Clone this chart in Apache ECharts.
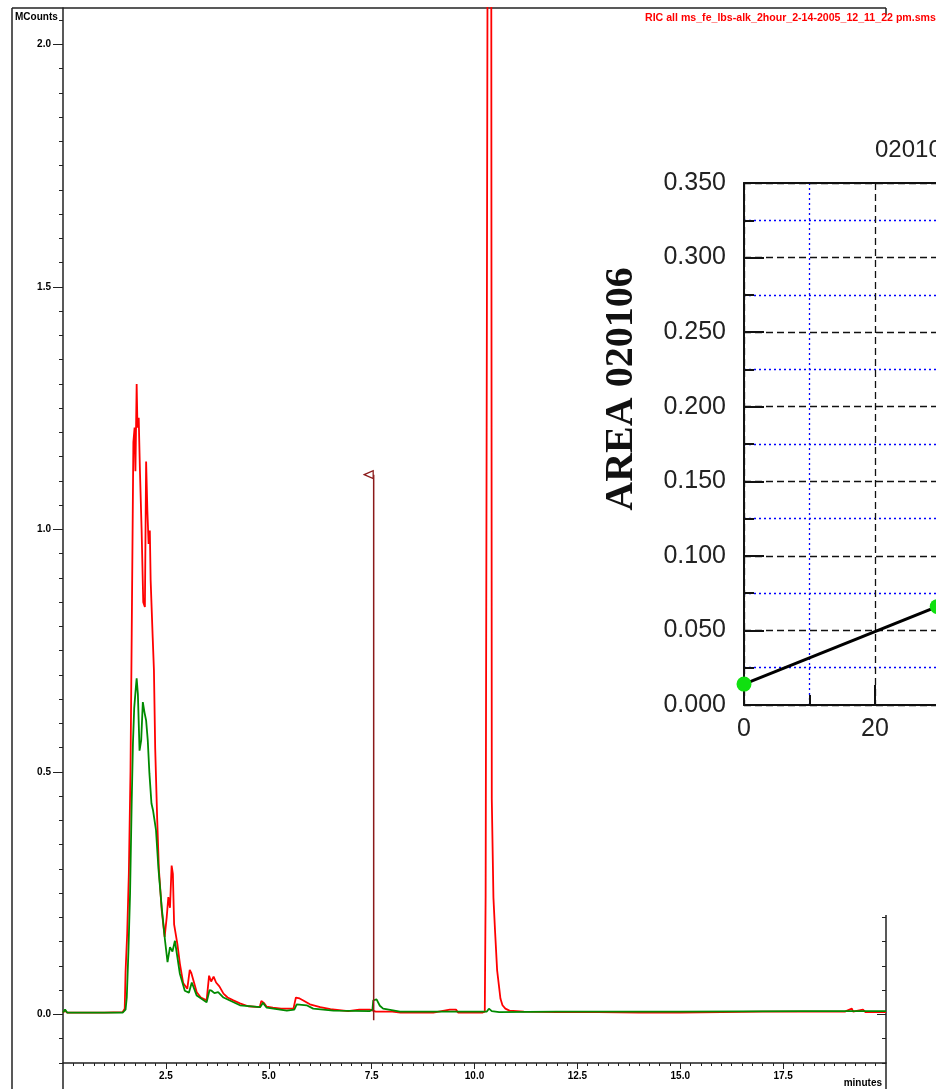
<!DOCTYPE html>
<html>
<head>
<meta charset="utf-8">
<script src="https://cdn.jsdelivr.net/npm/echarts@6/dist/echarts.min.js"></script>
<style>
  html, body { margin: 0; padding: 0; background: #fff; }
  #chart { width: 936px; height: 1089px; }
</style>
</head>
<body>
<div id="chart"></div>
<script>
// chromatogram traces, [minutes, MCounts]
const redTrace = [
  [0.0, 0.004], [0.05, 0.008], [0.1, 0.004], [0.5, 0.004], [1.0, 0.004], [1.45, 0.005],
  [1.50, 0.012], [1.52, 0.087], [1.56, 0.167], [1.60, 0.29], [1.64, 0.50], [1.67, 0.786],
  [1.71, 1.18], [1.74, 1.21], [1.76, 1.12], [1.79, 1.30], [1.81, 1.21], [1.84, 1.23],
  [1.87, 1.12], [1.91, 1.00], [1.95, 0.85], [1.99, 0.84], [2.02, 1.14], [2.05, 1.04],
  [2.08, 0.97], [2.11, 0.998], [2.13, 0.895], [2.18, 0.777], [2.21, 0.709], [2.24, 0.55],
  [2.29, 0.40], [2.33, 0.30], [2.40, 0.214], [2.47, 0.16], [2.52, 0.20], [2.56, 0.242],
  [2.60, 0.22], [2.64, 0.307], [2.67, 0.29], [2.70, 0.186], [2.78, 0.145], [2.84, 0.105],
  [2.92, 0.065], [3.02, 0.053], [3.08, 0.092], [3.12, 0.085], [3.17, 0.07], [3.25, 0.046],
  [3.35, 0.035], [3.49, 0.029], [3.55, 0.08], [3.60, 0.068], [3.66, 0.078], [3.72, 0.066],
  [3.80, 0.058], [3.90, 0.043], [4.00, 0.035], [4.14, 0.029], [4.30, 0.023], [4.50, 0.017],
  [4.78, 0.015], [4.82, 0.028], [4.88, 0.024], [4.95, 0.016], [5.10, 0.014], [5.30, 0.012],
  [5.60, 0.012], [5.66, 0.035], [5.75, 0.033], [5.84, 0.029], [6.00, 0.021], [6.25, 0.015],
  [6.50, 0.011], [6.93, 0.007], [7.20, 0.010], [7.46, 0.010], [7.50, 0.008], [7.60, 0.006],
  [8.00, 0.006], [8.20, 0.004], [9.00, 0.004], [9.40, 0.010], [9.55, 0.010], [9.60, 0.004],
  [10.00, 0.004], [10.20, 0.004], [10.25, 0.006], [10.27, 0.241], [10.30, 1.40], [10.34, 3.2],
  [10.40, 3.2], [10.42, 0.445], [10.46, 0.241], [10.50, 0.171], [10.55, 0.091], [10.59, 0.062],
  [10.63, 0.033], [10.68, 0.019], [10.75, 0.012], [10.85, 0.008], [11.2, 0.006], [12.0, 0.005],
  [13.0, 0.005], [14.0, 0.004], [15.0, 0.004], [16.0, 0.005], [17.0, 0.006], [18.0, 0.006],
  [19.0, 0.006], [19.17, 0.012], [19.2, 0.006], [19.44, 0.010], [19.5, 0.005], [20.0, 0.005]
];

const greenTrace = [
  [0.0, 0.004], [0.05, 0.010], [0.1, 0.004], [1.0, 0.004], [1.45, 0.004], [1.52, 0.010],
  [1.55, 0.035], [1.59, 0.13], [1.63, 0.25], [1.67, 0.44], [1.70, 0.56], [1.73, 0.631],
  [1.77, 0.674], [1.79, 0.693], [1.82, 0.66], [1.86, 0.544], [1.90, 0.565], [1.94, 0.644],
  [1.98, 0.623], [2.02, 0.606], [2.06, 0.565], [2.10, 0.497], [2.15, 0.435], [2.19, 0.42],
  [2.26, 0.38], [2.32, 0.30], [2.40, 0.22], [2.48, 0.152], [2.54, 0.108], [2.60, 0.139],
  [2.66, 0.13], [2.72, 0.152], [2.78, 0.118], [2.84, 0.084], [2.96, 0.049], [3.06, 0.045],
  [3.13, 0.066], [3.25, 0.039], [3.49, 0.025], [3.56, 0.050], [3.61, 0.049], [3.68, 0.044],
  [3.77, 0.046], [3.90, 0.035], [4.30, 0.019], [4.79, 0.015], [4.86, 0.024], [4.95, 0.014],
  [5.44, 0.008], [5.62, 0.010], [5.68, 0.021], [5.92, 0.019], [6.08, 0.012], [6.57, 0.008],
  [7.46, 0.007], [7.52, 0.010], [7.54, 0.029], [7.62, 0.031], [7.70, 0.018], [7.78, 0.012],
  [8.19, 0.006], [9.00, 0.006], [10.30, 0.006], [10.35, 0.012], [10.42, 0.007], [10.60, 0.005],
  [12.0, 0.006], [15.0, 0.006], [18.0, 0.007], [20.0, 0.007]
];

// event marker at 7.55 min
const markerTime = 7.55;
const markerBottom = -0.012;
const markerTop = 1.113;

// main axes
const xLabelTicks = [2.5, 5.0, 7.5, 10.0, 12.5, 15.0, 17.5];
const yLabelTicks = [0.0, 0.5, 1.0, 1.5, 2.0];
const rightMinorTicks = [-0.1, -0.05, 0.05, 0.1, 0.15, 0.2];

// inset calibration plot
const calibX = [0, 29.5];
const calibY = [0.014, 0.066];

const titleText = 'RIC all ms_fe_lbs-alk_2hour_2-14-2005_12_11_22 pm.sms';
const insetTitle = '020106';
const insetYName = 'AREA 020106';

// minor tick positions
let xMinorTicks = [];
for (let i = 1; i < 80; i++) xMinorTicks.push(+(i * 0.25).toFixed(2));
let yMinorTicks = [];
for (let i = -2; i <= 41; i++) yMinorTicks.push(+(i * 0.05).toFixed(2));

const smallFont = { fontFamily: 'Liberation Sans', fontWeight: 'bold', fontSize: 10, color: '#000' };
const insetFont = { fontFamily: 'Liberation Sans', fontSize: 25, color: '#222' };
const frame = { stroke: '#222', lineWidth: 1.5 };

const myChart = echarts.init(document.getElementById('chart'), null, { renderer: 'canvas' });

const option = {
  animation: false,
  backgroundColor: '#fff',
  grid: [
    { left: 63, top: 8, width: 823, height: 1055, outerBoundsMode: 'none', containLabel: false },
    { left: 744, top: 183, width: 393, height: 522, outerBoundsMode: 'none', containLabel: false }
  ],
  xAxis: [
    {
      gridIndex: 0, type: 'value', position: 'bottom', min: 0, max: 20,
      axisLine: { onZero: false, lineStyle: { color: '#222', width: 1.5 } },
      axisTick: { customValues: xLabelTicks, length: 6, lineStyle: { color: '#222' } },
      axisLabel: Object.assign({ customValues: xLabelTicks, margin: 8, formatter: v => v.toFixed(1) }, smallFont),
      splitLine: { show: false }
    },
    {
      gridIndex: 0, type: 'value', position: 'bottom', min: 0, max: 20,
      axisLine: { show: false, onZero: false },
      axisTick: { customValues: xMinorTicks, length: 3, lineStyle: { color: '#222' } },
      axisLabel: { show: false },
      splitLine: { show: false }
    },
    {
      gridIndex: 1, type: 'value', position: 'bottom', min: 0, max: 60, interval: 20,
      axisLine: { onZero: false, lineStyle: { color: '#111', width: 2 } },
      axisTick: { inside: true, length: 20, lineStyle: { color: '#111', width: 2 } },
      minorTick: { show: true, splitNumber: 2, length: 10, lineStyle: { color: '#111', width: 2 } },
      axisLabel: Object.assign({ margin: 12 }, insetFont),
      splitLine: { show: true, lineStyle: { color: '#111', type: [7, 4], width: 1.3 } },
      minorSplitLine: { show: true, lineStyle: { color: '#0000ff', type: [2, 3], width: 1.3 } }
    },
    {
      gridIndex: 1, type: 'value', position: 'top', min: 0, max: 60,
      axisLine: { onZero: false, lineStyle: { color: '#111', width: 2 } },
      axisTick: { show: false }, axisLabel: { show: false }, splitLine: { show: false }
    }
  ],
  yAxis: [
    {
      gridIndex: 0, type: 'value', position: 'left', min: -0.1, max: 2.075,
      axisLine: { show: true, onZero: false, lineStyle: { color: '#222', width: 1.5 } },
      axisTick: { customValues: yLabelTicks, length: 10, lineStyle: { color: '#222' } },
      axisLabel: Object.assign({ customValues: yLabelTicks, margin: 12, formatter: v => v.toFixed(1) }, smallFont),
      splitLine: { show: false }
    },
    {
      gridIndex: 0, type: 'value', position: 'left', min: -0.1, max: 2.075,
      axisLine: { show: false, onZero: false },
      axisTick: { customValues: yMinorTicks, length: 4, lineStyle: { color: '#222' } },
      axisLabel: { show: false }, splitLine: { show: false }
    },
    {
      gridIndex: 0, type: 'value', position: 'right', min: -0.1, max: 2.075,
      axisLine: { show: false, onZero: false },
      axisTick: { customValues: rightMinorTicks, inside: true, length: 4, lineStyle: { color: '#222' } },
      axisLabel: { show: false }, splitLine: { show: false }
    },
    {
      gridIndex: 0, type: 'value', position: 'right', min: -0.1, max: 2.075,
      axisLine: { show: false, onZero: false },
      axisTick: { customValues: [0], inside: true, length: 9, lineStyle: { color: '#222' } },
      axisLabel: { show: false }, splitLine: { show: false }
    },
    {
      gridIndex: 1, type: 'value', position: 'left', min: 0, max: 0.35, interval: 0.05,
      axisLine: { show: true, onZero: false, lineStyle: { color: '#111', width: 2 } },
      axisTick: { inside: true, length: 20, lineStyle: { color: '#111', width: 2 } },
      minorTick: { show: true, splitNumber: 2, length: 10, lineStyle: { color: '#111', width: 2 } },
      axisLabel: Object.assign({ margin: 18, formatter: v => v.toFixed(3) }, insetFont),
      splitLine: { show: true, lineStyle: { color: '#111', type: [7, 4], width: 1.3 } },
      minorSplitLine: { show: true, lineStyle: { color: '#0000ff', type: [2, 3], width: 1.3 } }
    }
  ],
  series: [
    {
      name: 'red', type: 'line', xAxisIndex: 0, yAxisIndex: 0,
      data: redTrace, showSymbol: false, z: 3,
      lineStyle: { color: '#ff0000', width: 1.8 }
    },
    {
      name: 'green', type: 'line', xAxisIndex: 0, yAxisIndex: 0,
      data: greenTrace, showSymbol: false, z: 4,
      lineStyle: { color: '#008a00', width: 1.8 }
    },
    {
      name: 'marker', type: 'line', xAxisIndex: 0, yAxisIndex: 0, z: 5,
      symbol: 'none',
      data: [
        [markerTime, markerBottom],
        { value: [markerTime, markerTop], symbol: 'triangle', symbolSize: [8, 9], symbolRotate: 90, symbolOffset: [-5, 0] }
      ],
      lineStyle: { color: '#8b1a1a', width: 1.5 },
      itemStyle: { color: '#fff', borderColor: '#8b1a1a', borderWidth: 1.2 }
    },
    {
      name: 'calibration', type: 'line', xAxisIndex: 2, yAxisIndex: 4, z: 10,
      data: calibX.map((x, i) => [x, calibY[i]]),
      symbol: 'circle', symbolSize: 15,
      lineStyle: { color: '#000', width: 3 },
      itemStyle: { color: '#10e010' }
    }
  ],
  graphic: [
    { type: 'line', shape: { x1: 12, y1: 8, x2: 12, y2: 1089 }, style: frame },
    { type: 'line', shape: { x1: 12, y1: 8, x2: 886, y2: 8 }, style: frame },
    { type: 'line', shape: { x1: 63, y1: 1063, x2: 63, y2: 1089 }, style: frame },
    { type: 'line', shape: { x1: 886, y1: 8, x2: 886, y2: 15 }, style: frame },
    { type: 'line', shape: { x1: 886, y1: 915, x2: 886, y2: 1089 }, style: frame },
    {
      type: 'text', x: 15, y: 17,
      style: { text: 'MCounts', fill: '#000', font: 'bold 10px "Liberation Sans"', verticalAlign: 'middle' }
    },
    {
      type: 'text', x: 882, y: 1083,
      style: { text: 'minutes', fill: '#000', font: 'bold 10px "Liberation Sans"', align: 'right', verticalAlign: 'middle' }
    },
    {
      type: 'text', x: 645, y: 18,
      style: { text: titleText, fill: '#ff0000', font: 'bold 10.6px "Liberation Sans"', verticalAlign: 'middle' }
    },
    {
      type: 'text', x: 875, y: 150,
      style: { text: insetTitle, fill: '#222', font: '24px "Liberation Sans"', verticalAlign: 'middle' }
    },
    {
      type: 'text', x: 622, y: 389, rotation: Math.PI / 2,
      style: { text: insetYName, fill: '#111', font: 'bold 40px "Liberation Serif"', align: 'center', verticalAlign: 'middle' }
    }
  ]
};

myChart.setOption(option);
</script>
</body>
</html>
